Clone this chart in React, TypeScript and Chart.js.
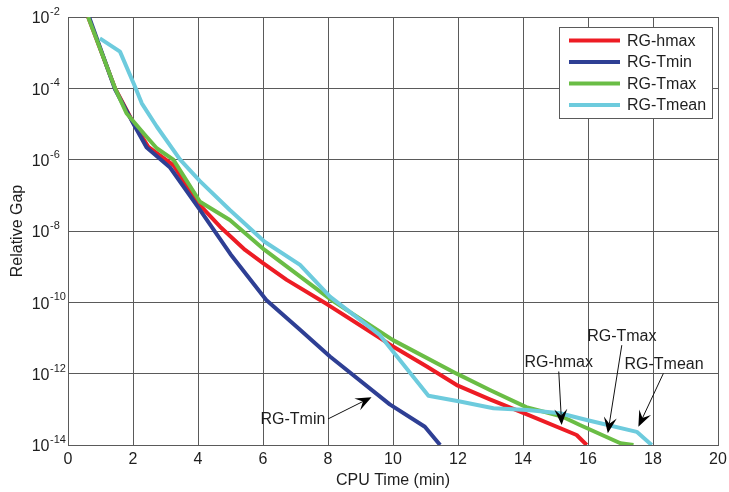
import React, { useEffect, useRef } from 'react';
import { Chart, registerables } from 'chart.js';

Chart.register(...registerables);

const FONT = '"Liberation Sans", Arial, Helvetica, sans-serif';

const seriesLabels = ['RG-hmax', 'RG-Tmin', 'RG-Tmax', 'RG-Tmean'];
const seriesColors = ['#ed1c24', '#2e3f94', '#6abd45', '#6dcbdd'];

const hmaxX = [0.62, 1.45, 2.0, 2.47, 3.24, 4.0, 4.68, 5.45, 6.0, 6.73, 8.0, 9.6, 10.0, 11.04, 11.96, 12.98, 14.14, 15.65, 15.96];
const hmaxY = [1e-2, 1e-4, 1.12e-5, 2.29e-6, 7.08e-7, 6.03e-8, 1.32e-8, 2.95e-9, 1.26e-9, 4.27e-10, 8.51e-11, 1.0e-11, 5.75e-12, 1.58e-12, 4.79e-13, 1.91e-13, 7.08e-14, 1.91e-14, 1e-14];

const tminX = [0.65, 1.45, 2.0, 2.42, 3.14, 4.06, 5.0, 6.1, 7.14, 8.06, 9.9, 10.98, 11.45];
const tminY = [1e-2, 9.3e-5, 1.07e-5, 2.19e-6, 6.03e-7, 3.89e-8, 2.24e-9, 1.17e-10, 1.7e-11, 3.02e-12, 1.38e-13, 3.24e-14, 1e-14];

const tmaxX = [0.62, 1.45, 1.8, 2.37, 2.73, 3.24, 4.06, 4.98, 6.05, 8.1, 10.0, 11.96, 12.98, 14.1, 15.2, 15.75, 17.0, 17.4];
const tmaxY = [1e-2, 1e-4, 2.0e-5, 4.9e-6, 2.09e-6, 1e-6, 6.61e-8, 2.04e-8, 2.95e-9, 1.17e-10, 8.71e-12, 1e-12, 3.47e-13, 1.15e-13, 6.31e-14, 3.63e-14, 1.12e-14, 1e-14];

const tmeanX = [0.98, 1.6, 2.06, 2.27, 2.73, 3.45, 4.06, 4.98, 6.05, 7.14, 8.06, 9.6, 11.09, 12.06, 13.09, 14.14, 15.14, 15.96, 17.5, 17.96];
const tmeanY = [2.51e-3, 1.07e-3, 1.12e-4, 3.8e-5, 8.51e-6, 1e-6, 2.51e-7, 3.89e-8, 5.01e-9, 1.12e-9, 1.45e-10, 1.2e-11, 2.4e-13, 1.66e-13, 1.07e-13, 9.55e-14, 7.76e-14, 5.01e-14, 2.34e-14, 1e-14];

const xTicks = [0, 2, 4, 6, 8, 10, 12, 14, 16, 18, 20];
const yTickValues = [1e-14, 1e-12, 1e-10, 1e-8, 1e-6, 1e-4, 1e-2];
const yTickBase = '10';
const yTickExps = ['-14', '-12', '-10', '-8', '-6', '-4', '-2'];

const xTitle = 'CPU Time (min)';
const yTitle = 'Relative Gap';

const annoTexts = ['RG-Tmin', 'RG-hmax', 'RG-Tmax', 'RG-Tmean'];
const annoTextX = [6.92, 15.1, 17.04, 18.34];
const annoTextY = [5.0e-14, 2.04e-12, 1.1e-11, 1.82e-12];
const arrowTailX = [8.0, 15.1, 17.04, 18.32];
const arrowTailY = [5.37e-14, 1.15e-12, 6.3e-12, 1.02e-12];
const arrowTipX = [9.34, 15.19, 16.61, 17.55];
const arrowTipY = [2.19e-13, 3.63e-14, 2.14e-14, 3.24e-14];

const GRID = '#5a5a5a';
const TEXT = '#1e1e1e';

const seriesX = [hmaxX, tminX, tmaxX, tmeanX];
const seriesY = [hmaxY, tminY, tmaxY, tmeanY];
const drawOrder = [3, 2, 1, 0];

const overlayPlugin = {
  id: 'overlay',
  afterDraw(chart: any) {
    const ctx = chart.ctx as CanvasRenderingContext2D;
    const xs = chart.scales.x;
    const ys = chart.scales.y;
    const area = chart.chartArea;
    ctx.save();

    // y tick labels with superscript exponents
    ctx.fillStyle = TEXT;
    yTickValues.forEach((v, i) => {
      const py = ys.getPixelForValue(v);
      ctx.font = `16px ${FONT}`;
      ctx.textAlign = 'right';
      ctx.textBaseline = 'middle';
      ctx.fillText(yTickBase, 49.5, py + 2);
      ctx.font = `11px ${FONT}`;
      ctx.textAlign = 'left';
      ctx.fillText(yTickExps[i], 50, py - 5);
    });

    // annotations
    ctx.font = `16px ${FONT}`;
    ctx.textAlign = 'center';
    ctx.textBaseline = 'middle';
    annoTexts.forEach((t, i) => {
      const tx = xs.getPixelForValue(annoTextX[i]);
      const ty = ys.getPixelForValue(annoTextY[i]);
      ctx.fillStyle = TEXT;
      ctx.fillText(t, tx, ty);
      const ax = xs.getPixelForValue(arrowTailX[i]);
      const ay = ys.getPixelForValue(arrowTailY[i]);
      const bx = xs.getPixelForValue(arrowTipX[i]);
      const by = ys.getPixelForValue(arrowTipY[i]);
      const dx = bx - ax;
      const dy = by - ay;
      const len = Math.hypot(dx, dy);
      const ux = dx / len;
      const uy = dy / len;
      const px = -uy;
      const pyy = ux;
      const L = 16;
      const W = 6.5;
      ctx.strokeStyle = '#111';
      ctx.lineWidth = 1;
      ctx.beginPath();
      ctx.moveTo(ax, ay);
      ctx.lineTo(bx - ux * L * 0.6, by - uy * L * 0.6);
      ctx.stroke();
      ctx.fillStyle = '#000';
      ctx.beginPath();
      ctx.moveTo(bx, by);
      ctx.lineTo(bx - ux * L + px * W, by - uy * L + pyy * W);
      ctx.lineTo(bx - ux * L * 0.6, by - uy * L * 0.6);
      ctx.lineTo(bx - ux * L - px * W, by - uy * L - pyy * W);
      ctx.closePath();
      ctx.fill();
    });

    // legend box
    const bw = 153;
    const bh = 91;
    const bx0 = area.right - 159;
    const by0 = area.top + 10;
    ctx.fillStyle = '#ffffff';
    ctx.fillRect(bx0, by0, bw, bh);
    ctx.strokeStyle = GRID;
    ctx.lineWidth = 1;
    ctx.strokeRect(bx0 + 0.5, by0 + 0.5, bw, bh);
    seriesLabels.forEach((lab, i) => {
      const ly = by0 + 13.5 + i * 21.5;
      ctx.strokeStyle = seriesColors[i];
      ctx.lineWidth = 4;
      ctx.beginPath();
      ctx.moveTo(bx0 + 10, ly);
      ctx.lineTo(bx0 + 61, ly);
      ctx.stroke();
      ctx.fillStyle = TEXT;
      ctx.font = `16px ${FONT}`;
      ctx.textAlign = 'left';
      ctx.textBaseline = 'middle';
      ctx.fillText(lab, bx0 + 68, ly + 1);
    });

    ctx.restore();
  },
};

export default function App() {
  const canvasRef = useRef<HTMLCanvasElement | null>(null);

  useEffect(() => {
    document.body.style.margin = '0';
    const canvas = canvasRef.current;
    if (!canvas) return;
    const datasets = seriesLabels.map((label, i) => ({
      label,
      data: seriesX[i].map((x, j) => ({ x, y: seriesY[i][j] })),
      borderColor: seriesColors[i],
      backgroundColor: seriesColors[i],
      borderWidth: 4,
      pointRadius: 0,
      tension: 0,
      fill: false,
      borderJoinStyle: 'round' as const,
      borderCapStyle: 'butt' as const,
      order: drawOrder[i],
    }));
    const chart = new Chart(canvas, {
      type: 'line',
      data: { datasets },
      options: {
        animation: false,
        responsive: false,
        devicePixelRatio: 1,
        parsing: false as any,
        layout: { padding: { top: 17, right: 11, left: 0, bottom: 0 } },
        plugins: {
          legend: { display: false },
          tooltip: { enabled: false },
        },
        scales: {
          x: {
            type: 'linear',
            min: 0,
            max: 20,
            afterBuildTicks: (s: any) => {
              s.ticks = xTicks.map((v) => ({ value: v }));
            },
            ticks: {
              font: { family: FONT, size: 16 },
              color: TEXT,
              padding: 5,
              maxRotation: 0,
              autoSkip: false,
            },
            grid: { color: GRID, lineWidth: 1, drawTicks: false },
            border: { color: GRID, width: 1 },
            title: {
              display: true,
              text: xTitle,
              font: { family: FONT, size: 16 },
              color: TEXT,
              padding: { top: 0, bottom: 2 },
            },
            afterFit: (s: any) => {
              s.height = 47;
              s.paddingLeft = 0;
              s.paddingRight = 0;
            },
          },
          y: {
            type: 'logarithmic',
            min: 1e-14,
            max: 1e-2,
            afterBuildTicks: (s: any) => {
              s.ticks = yTickValues.map((v) => ({ value: v }));
            },
            ticks: { display: false },
            grid: { color: GRID, lineWidth: 1, drawTicks: false },
            border: { color: GRID, width: 1 },
            title: {
              display: true,
              text: yTitle,
              font: { family: FONT, size: 16 },
              color: TEXT,
              padding: { top: 8, bottom: 0 },
            },
            afterFit: (s: any) => {
              s.width = 68;
            },
          },
        },
      } as any,
      plugins: [overlayPlugin],
    });
    return () => chart.destroy();
  }, []);

  return (
    <div style={{ position: 'fixed', left: 0, top: 0, width: 729, height: 492, background: '#fff' }}>
      <canvas ref={canvasRef} width={729} height={492} style={{ display: 'block' }} />
    </div>
  );
}
